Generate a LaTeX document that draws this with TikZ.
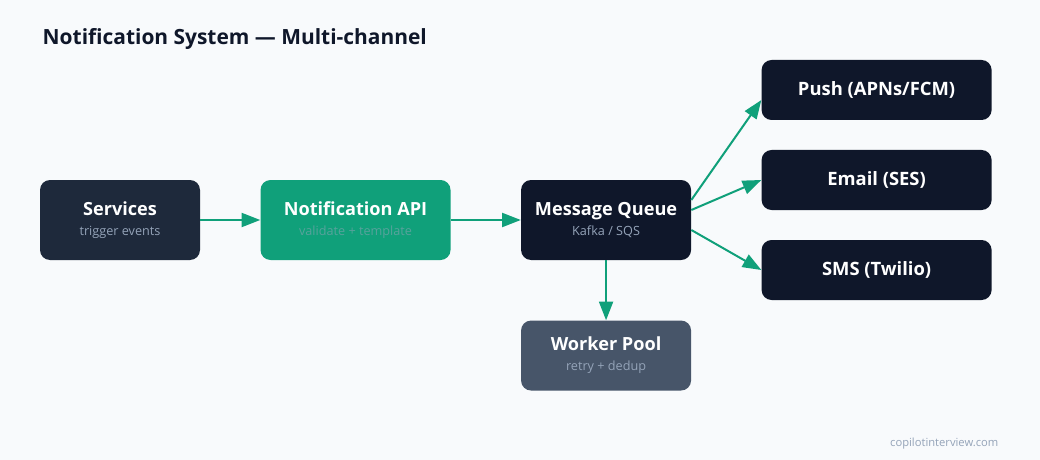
\documentclass[tikz,border=0pt]{standalone}
\usepackage{fontspec}
\setmainfont{Open Sans}
\usetikzlibrary{positioning, arrows.meta}
\definecolor{NotifBg}{HTML}{F8FAFC}
\definecolor{NotifSlate}{HTML}{1E293B}
\definecolor{NotifNight}{HTML}{0F172A}
\definecolor{NotifGrey}{HTML}{475569}
\definecolor{NotifSoft}{HTML}{94A3B8}
\definecolor{NotifGreen}{RGB}{16,160,122}

\begin{document}
\begin{tikzpicture}[x=0.75pt, y=-0.75pt, node distance=45pt and 45pt,
  box/.style={rounded corners=7.5pt, align=center, text=white, minimum width=120pt, minimum height=60pt, inner sep=0pt},
  outbox/.style={box, fill=NotifNight, minimum width=172.5pt, minimum height=45pt, font=\bfseries\fontsize{13.8}{16}\selectfont},
  arrow/.style={-{Triangle[length=14pt, width=10.5pt]}, line width=1.5pt, NotifGreen}]

% canvas
\fill[NotifBg] (0,0) rectangle (1040,460);

\node[anchor=base west, text=NotifNight, font=\bfseries\fontsize{15.7}{18}\selectfont] (title) at (38,45) {Notification System — Multi-channel};

% main pipeline
\node[box, fill=NotifSlate] (svc) at (120,220) {{\bfseries\fontsize{13.6}{16}\selectfont Services}\\[3pt]{\fontsize{9.5}{11}\selectfont\color{NotifSoft} trigger events}};
\node[box, fill=NotifGreen, minimum width=142.5pt, right=of svc] (api) {{\bfseries\fontsize{13.6}{16}\selectfont Notification API}\\[3pt]{\fontsize{9.5}{11}\selectfont\color{NotifSoft!55!NotifGreen} validate + template}};
\node[box, fill=NotifNight, minimum width=127.5pt, right=52.5pt of api] (queue) {{\bfseries\fontsize{13.6}{16}\selectfont Message Queue}\\[3pt]{\fontsize{9.5}{11}\selectfont\color{NotifSoft} Kafka / SQS}};
\node[box, fill=NotifGrey, minimum width=127.5pt, minimum height=52.5pt, below=of queue] (worker) {{\bfseries\fontsize{13.6}{16}\selectfont Worker Pool}\\[3pt]{\fontsize{9.5}{11}\selectfont\color{NotifSoft} retry + dedup}};

% delivery channels
\node[outbox, right=52.5pt of queue, yshift=97.5pt] (push) {Push (APNs/FCM)};
\node[outbox, right=52.5pt of queue, yshift=30pt] (email) {Email (SES)};
\node[outbox, right=52.5pt of queue, yshift=-37.5pt] (sms) {SMS (Twilio)};

\draw[arrow] (svc) -- (api);
\draw[arrow] (api) -- (queue);
\draw[arrow] (queue) -- (worker);
\draw[arrow] ([yshift=15pt]queue.east) -- ([yshift=-7.5pt]push.west);
\draw[arrow] ([yshift=7.5pt]queue.east) -- (email.west);
\draw[arrow] ([yshift=-7.5pt]queue.east) -- (sms.west);

\node[anchor=base east, text=NotifSoft, font=\fontsize{8.4}{10}\selectfont] (credit) at (1003,446) {copilotinterview.com};
\end{tikzpicture}
\end{document}
